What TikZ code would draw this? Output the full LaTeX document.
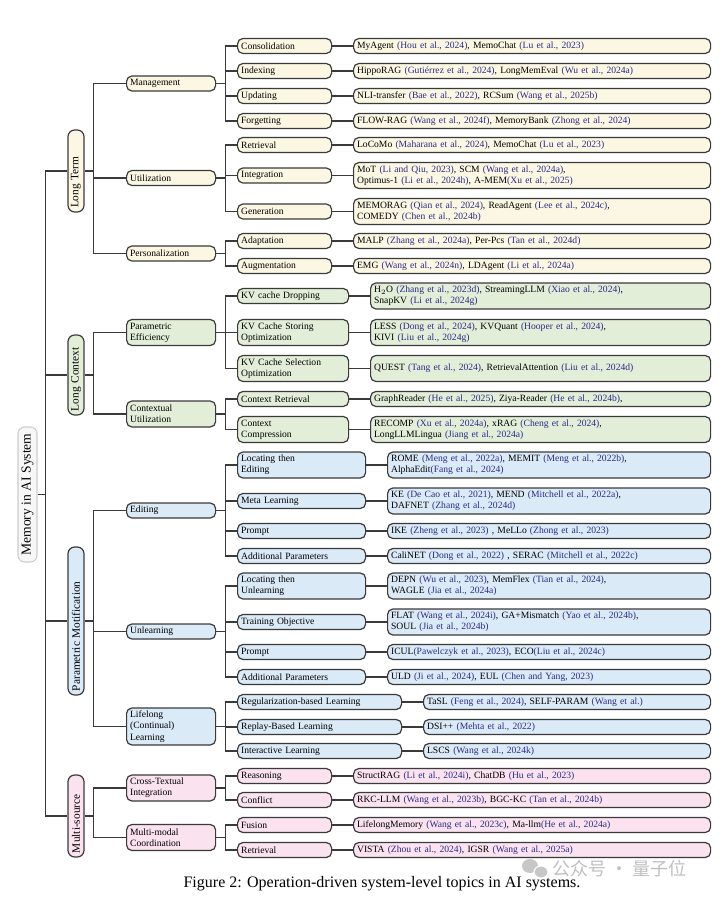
\documentclass[tikz,border=0pt]{standalone}
\usepackage{fontspec}
\setmainfont{Liberation Serif}
\newfontfamily\cjkf{Noto Sans CJK SC}
\newdimen\px \px=0.75pt
\definecolor{ltc}{HTML}{FCF7E3}
\definecolor{lcc}{HTML}{E3EED9}
\definecolor{pmc}{HTML}{DBEAF7}
\definecolor{msc}{HTML}{FAE3EE}
\definecolor{bordc}{HTML}{3A3A3A}
\definecolor{linec}{HTML}{3A3A3A}
\definecolor{citec}{HTML}{2A2A88}
\newcommand{\ct}[1]{\textcolor{citec}{#1}}
\newcommand{\fs}{\fontsize{7.2}{8.4}\selectfont}
\begin{document}
\begin{tikzpicture}[x=0.75pt,y=-0.75pt,
  bx/.style={draw=bordc, line width=0.9pt, rounded corners=4pt, inner xsep=3.5\px, inner ysep=0pt, align=left, anchor=west, font=\fs},
  ha/.style={minimum height=15\px},
  hb/.style={minimum height=26\px},
  hc/.style={minimum height=37\px},
  wtwo/.style={text width=82\px},
  wthr/.style={text width=87\px},
  wthrb/.style={text width=104\px},
  wthrc/.style={text width=121\px},
  wthrd/.style={text width=157\px},
  lfa/.style={text width=350\px},
  lfb/.style={text width=333\px},
  lfc/.style={text width=316\px},
  lfd/.style={text width=280\px},
  ltb/.style={bx, fill=ltc},
  lcb/.style={bx, fill=lcc},
  pmb/.style={bx, fill=pmc},
  msb/.style={bx, fill=msc},
  topb/.style={draw=bordc, line width=0.9pt, rounded corners=5pt, rotate=90, anchor=center, inner xsep=4\px, inner ysep=0pt, minimum height=16\px, align=left, font=\fontsize{8.5}{9}\selectfont},
  conn/.style={draw=linec, line width=0.8pt}
]
\useasboundingbox (0,0) rectangle (720,898);

% root
\node[draw=black!20, fill=black!3, line width=0.8pt, rounded corners=5pt, rotate=90, minimum width=135\px, minimum height=19\px, inner sep=0pt, font=\fontsize{10.2}{11}\selectfont] (root) at (27.5,494.5) {Memory in AI System};

% level 1
\node[topb, fill=ltc, minimum width=82\px, text width=74\px] (a1) at (76,171) {Long Term};
\node[topb, fill=lcc, minimum width=80\px, text width=72\px] (a2) at (76,375) {Long Context};
\node[topb, fill=pmc, minimum width=148\px, text width=140\px] (a3) at (76,621) {Parametric Motification};
\node[topb, fill=msc, minimum width=82\px, text width=74\px] (a4) at (76,816) {Multi-source};

% ---------------- Long Term ----------------
\node[ltb, wtwo, ha] (b1) at (126,83.5) {Management};
\node[ltb, wtwo, ha] (b2) at (126,178) {Utilization};
\node[ltb, wtwo, ha] (b3) at (126,253.5) {Personalization};

\node[ltb, wthr, ha] (c1) at (237,46) {Consolidation};
\node[ltb, wthr, ha] (c2) at (237,71) {Indexing};
\node[ltb, wthr, ha] (c3) at (237,96) {Updating};
\node[ltb, wthr, ha] (c4) at (237,121) {Forgetting};
\node[ltb, wthr, ha] (c5) at (237,145) {Retrieval};
\node[ltb, wthr, ha] (c6) at (237,175.5) {Integration};
\node[ltb, wthr, ha] (c7) at (237,211.5) {Generation};
\node[ltb, wthr, ha] (c8) at (237,241) {Adaptation};
\node[ltb, wthr, ha] (c9) at (237,266) {Augmentation};

\node[ltb, lfa, ha] (d1) at (353,46) {MyAgent \ct{(Hou et al., 2024)}, MemoChat \ct{(Lu et al., 2023)}};
\node[ltb, lfa, ha] (d2) at (353,71) {HippoRAG \ct{(Gutiérrez et al., 2024)}, LongMemEval \ct{(Wu et al., 2024a)}};
\node[ltb, lfa, ha] (d3) at (353,96) {NLI-transfer \ct{(Bae et al., 2022)}, RCSum \ct{(Wang et al., 2025b)}};
\node[ltb, lfa, ha] (d4) at (353,121) {FLOW-RAG \ct{(Wang et al., 2024f)}, MemoryBank \ct{(Zhong et al., 2024)}};
\node[ltb, lfa, ha] (d5) at (353,145) {LoCoMo \ct{(Maharana et al., 2024)}, MemoChat \ct{(Lu et al., 2023)}};
\node[ltb, lfa, hb] (d6) at (353,175.5) {MoT \ct{(Li and Qiu, 2023)}, SCM \ct{(Wang et al., 2024a)},\\Optimus-1 \ct{(Li et al., 2024h)}, A-MEM\ct{(Xu et al., 2025)}};
\node[ltb, lfa, hb] (d7) at (353,211.5) {MEMORAG \ct{(Qian et al., 2024)}, ReadAgent \ct{(Lee et al., 2024c)},\\COMEDY \ct{(Chen et al., 2024b)}};
\node[ltb, lfa, ha] (d8) at (353,241) {MALP \ct{(Zhang et al., 2024a)}, Per-Pcs \ct{(Tan et al., 2024d)}};
\node[ltb, lfa, ha] (d9) at (353,266) {EMG \ct{(Wang et al., 2024n)}, LDAgent \ct{(Li et al., 2024a)}};

% ---------------- Long Context ----------------
\node[lcb, wtwo, hb] (b4) at (126,332.5) {Parametric\\Efficiency};
\node[lcb, wtwo, hb] (b5) at (126,414) {Contextual\\Utilization};

\node[lcb, wthrb, ha] (c10) at (237,296) {KV cache Dropping};
\node[lcb, wthrb, hb] (c11) at (237,332.5) {KV Cache Storing\\Optimization};
\node[lcb, wthrb, hb] (c12) at (237,368.5) {KV Cache Selection\\Optimization};
\node[lcb, wthrb, ha] (c13) at (237,399) {Context Retrieval};
\node[lcb, wthrb, hb] (c14) at (237,429.5) {Context\\Compression};

\node[lcb, lfb, hb] (d10) at (370,296) {H$_2$O \ct{(Zhang et al., 2023d)}, StreamingLLM \ct{(Xiao et al., 2024)},\\SnapKV \ct{(Li et al., 2024g)}};
\node[lcb, lfb, hb] (d11) at (370,332.5) {LESS \ct{(Dong et al., 2024)}, KVQuant \ct{(Hooper et al., 2024)},\\KIVI \ct{(Liu et al., 2024g)}};
\node[lcb, lfb, hb] (d12) at (370,368.5) {QUEST \ct{(Tang et al., 2024)}, RetrievalAttention \ct{(Liu et al., 2024d)}};
\node[lcb, lfb, ha] (d13) at (370,399) {GraphReader \ct{(He et al., 2025)}, Ziya-Reader \ct{(He et al., 2024b)},};
\node[lcb, lfb, hb] (d14) at (370,429.5) {RECOMP \ct{(Xu et al., 2024a)}, xRAG \ct{(Cheng et al., 2024)},\\LongLLMLingua \ct{(Jiang et al., 2024a)}};

% ---------------- Parametric Motification ----------------
\node[pmb, wtwo, ha] (b6) at (126,510.5) {Editing};
\node[pmb, wtwo, ha] (b7) at (126,631.5) {Unlearning};
\node[pmb, wtwo, hc] (b8) at (126,726.5) {Lifelong\\(Continual)\\Learning};

\node[pmb, wthrc, hb] (c15) at (237,465) {Locating then\\Editing};
\node[pmb, wthrc, ha] (c16) at (237,501) {Meta Learning};
\node[pmb, wthrc, ha] (c17) at (237,531) {Prompt};
\node[pmb, wthrc, ha] (c18) at (237,556) {Additional Parameters};
\node[pmb, wthrc, hb] (c19) at (237,586) {Locating then\\Unlearning};
\node[pmb, wthrc, ha] (c20) at (237,622) {Training Objective};
\node[pmb, wthrc, ha] (c21) at (237,652) {Prompt};
\node[pmb, wthrc, ha] (c22) at (237,677) {Additional Parameters};
\node[pmb, wthrd, ha] (c23) at (237,702) {Regularization-based Learning};
\node[pmb, wthrd, ha] (c24) at (237,727) {Replay-Based Learning};
\node[pmb, wthrd, ha] (c25) at (237,751) {Interactive Learning};

\node[pmb, lfc, hb] (d15) at (387,465) {ROME \ct{(Meng et al., 2022a)}, MEMIT \ct{(Meng et al., 2022b)},\\AlphaEdit\ct{(Fang et al., 2024)}};
\node[pmb, lfc, hb] (d16) at (387,501) {KE \ct{(De Cao et al., 2021)}, MEND \ct{(Mitchell et al., 2022a)},\\DAFNET \ct{(Zhang et al., 2024d)}};
\node[pmb, lfc, ha] (d17) at (387,531) {IKE \ct{(Zheng et al., 2023)} , MeLLo \ct{(Zhong et al., 2023)}};
\node[pmb, lfc, ha] (d18) at (387,556) {CaliNET \ct{(Dong et al., 2022)} , SERAC \ct{(Mitchell et al., 2022c)}};
\node[pmb, lfc, hb] (d19) at (387,586) {DEPN \ct{(Wu et al., 2023)}, MemFlex \ct{(Tian et al., 2024)},\\WAGLE \ct{(Jia et al., 2024a)}};
\node[pmb, lfc, hb] (d20) at (387,622) {FLAT \ct{(Wang et al., 2024i)}, GA+Mismatch \ct{(Yao et al., 2024b)},\\SOUL \ct{(Jia et al., 2024b)}};
\node[pmb, lfc, ha] (d21) at (387,652) {ICUL\ct{(Pawelczyk et al., 2023)}, ECO\ct{(Liu et al., 2024c)}};
\node[pmb, lfc, ha] (d22) at (387,677) {ULD \ct{(Ji et al., 2024)}, EUL \ct{(Chen and Yang, 2023)}};
\node[pmb, lfd, ha] (d23) at (423,702) {TaSL \ct{(Feng et al., 2024)}, SELF-PARAM \ct{(Wang et al.)}};
\node[pmb, lfd, ha] (d24) at (423,727) {DSI++ \ct{(Mehta et al., 2022)}};
\node[pmb, lfd, ha] (d25) at (423,751) {LSCS \ct{(Wang et al., 2024k)}};

% ---------------- Multi-source ----------------
\node[msb, wtwo, hb] (b9) at (126,788) {Cross-Textual\\Integration};
\node[msb, wtwo, hb] (b10) at (126,837.5) {Multi-modal\\Coordination};

\node[msb, wthr, ha] (c26) at (237,776) {Reasoning};
\node[msb, wthr, ha] (c27) at (237,800) {Conflict};
\node[msb, wthr, ha] (c28) at (237,825) {Fusion};
\node[msb, wthr, ha] (c29) at (237,850) {Retrieval};

\node[msb, lfa, ha] (d26) at (353,776) {StructRAG \ct{(Li et al., 2024i)}, ChatDB \ct{(Hu et al., 2023)}};
\node[msb, lfa, ha] (d27) at (353,800) {RKC-LLM \ct{(Wang et al., 2023b)}, BGC-KC \ct{(Tan et al., 2024b)}};
\node[msb, lfa, ha] (d28) at (353,825) {LifelongMemory \ct{(Wang et al., 2023c)}, Ma-llm\ct{(He et al., 2024a)}};
\node[msb, lfa, ha] (d29) at (353,850) {VISTA \ct{(Zhou et al., 2024)}, IGSR \ct{(Wang et al., 2025a)}};

% ---------------- connectors ----------------
% root -> level 1
\draw[conn] (root.south) -- ++(8,0) coordinate (rj);
\foreach \n in {a1,a2,a3,a4} \draw[conn] (rj) |- (\n.north);
% level 1 -> level 2
\draw[conn] (a1.south) -- ++(9,0) coordinate (j1);
\foreach \n in {b1,b2,b3} \draw[conn] (j1) |- (\n.west);
\draw[conn] (a2.south) -- ++(9,0) coordinate (j2);
\foreach \n in {b4,b5} \draw[conn] (j2) |- (\n.west);
\draw[conn] (a3.south) -- ++(9,0) coordinate (j3);
\foreach \n in {b6,b7,b8} \draw[conn] (j3) |- (\n.west);
\draw[conn] (a4.south) -- ++(9,0) coordinate (j4);
\foreach \n in {b9,b10} \draw[conn] (j4) |- (\n.west);
% level 2 -> level 3
\draw[conn] (b1.east) -- ++(9,0) coordinate (k1);
\foreach \n in {c1,c2,c3,c4} \draw[conn] (k1) |- (\n.west);
\draw[conn] (b2.east) -- ++(9,0) coordinate (k2);
\foreach \n in {c5,c6,c7} \draw[conn] (k2) |- (\n.west);
\draw[conn] (b3.east) -- ++(9,0) coordinate (k3);
\foreach \n in {c8,c9} \draw[conn] (k3) |- (\n.west);
\draw[conn] (b4.east) -- ++(9,0) coordinate (k4);
\foreach \n in {c10,c11,c12} \draw[conn] (k4) |- (\n.west);
\draw[conn] (b5.east) -- ++(9,0) coordinate (k5);
\foreach \n in {c13,c14} \draw[conn] (k5) |- (\n.west);
\draw[conn] (b6.east) -- ++(9,0) coordinate (k6);
\foreach \n in {c15,c16,c17,c18} \draw[conn] (k6) |- (\n.west);
\draw[conn] (b7.east) -- ++(9,0) coordinate (k7);
\foreach \n in {c19,c20,c21,c22} \draw[conn] (k7) |- (\n.west);
\draw[conn] (b8.east) -- ++(9,0) coordinate (k8);
\foreach \n in {c23,c24,c25} \draw[conn] (k8) |- (\n.west);
\draw[conn] (b9.east) -- ++(9,0) coordinate (k9);
\foreach \n in {c26,c27} \draw[conn] (k9) |- (\n.west);
\draw[conn] (b10.east) -- ++(9,0) coordinate (k10);
\foreach \n in {c28,c29} \draw[conn] (k10) |- (\n.west);
% level 3 -> leaves
\foreach \i in {1,...,29} \draw[conn] (c\i.east) -- (d\i.west);

% caption
\node[font=\fontsize{12}{14}\selectfont, inner sep=0pt] (cap) at (382,884) {Figure 2: Operation-driven system-level topics in AI systems.};

% watermark
\fill[black!22] (530,866) ellipse (8 and 7);
\fill[black!22, draw=white, line width=0.8pt] (541,872) ellipse (7 and 6);
\node[font=\cjkf\fontsize{13.5}{14}\selectfont, text=black!25, anchor=west, inner sep=0pt] (wm) at (552,869) {公众号 · 量子位};
\end{tikzpicture}
\end{document}
